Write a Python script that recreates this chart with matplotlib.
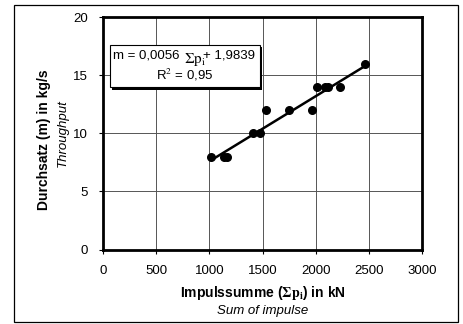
import matplotlib
matplotlib.use('Agg')
import matplotlib.pyplot as plt
import numpy as np
from matplotlib.patches import Rectangle

plt.rcParams['font.family'] = ['Liberation Sans', 'DejaVu Sans']
plt.rcParams['mathtext.fontset'] = 'stix'

# data
impulse = [1020, 1140, 1165, 1415, 1480, 1535, 1750, 1965, 2015, 2090, 2115, 2230, 2465]
throughput = [8, 8, 8, 10, 10, 12, 12, 12, 14, 14, 14, 14, 16]
slope = 0.0056
intercept = 1.9839
r2_text = "0,95"
xticks = [0, 500, 1000, 1500, 2000, 2500, 3000]
yticks = [0, 5, 10, 15, 20]

W, H = 464, 324
fig = plt.figure(figsize=(W / 100, H / 100), dpi=100)
ax = fig.add_axes([103 / W, 1 - 249.5 / H, 319 / W, 232.5 / H])

def fx(px):
    return px / W

def fy(py):
    return 1 - py / H

# outer frame
fig.patches.append(Rectangle((fx(14), fy(322)), fx(458) - fx(14), fy(5) - fy(322),
                             transform=fig.transFigure, fill=False, lw=0.9, ec='black'))

ax.grid(True, color='#555555', lw=0.7)
ax.set_axisbelow(True)
ax.scatter(impulse, throughput, s=30, color='black', zorder=3)
xl = np.array([min(impulse), max(impulse)])
ax.plot(xl, slope * xl + intercept, color='black', lw=1.8, zorder=3)

ax.set_xlim(0, 3000)
ax.set_ylim(0, 20)
ax.set_xticks(xticks)
ax.set_yticks(yticks)
ax.tick_params(direction='out', length=3, width=0.8, labelsize=9.5, pad=8)
for s in ax.spines.values():
    s.set_linewidth(2.0)

# equation box with shadow
bx0, bx1, by0, by1 = fx(110), fx(260), fy(87), fy(44.5)
fig.patches.append(Rectangle((bx0 + 2.5 / W, by0 - 2.5 / H), bx1 - bx0, by1 - by0,
                             transform=fig.transFigure, fc='black', ec='black', lw=0, zorder=5))
fig.patches.append(Rectangle((bx0, by0), bx1 - bx0, by1 - by0,
                             transform=fig.transFigure, fc='white', ec='black', lw=0.8, zorder=6))
fig.text(fx(113), fy(56), "m = 0,0056", fontsize=9.5, va='center', ha='left', zorder=7)
fig.text(fx(184), fy(60), r"$\Sigma\mathrm{p_i}$", fontsize=11, va='center', ha='left', zorder=7)
fig.text(fx(203), fy(55), "+ 1,9839", fontsize=9.5, va='center', ha='left', zorder=7)
fig.text(fx(185), fy(75), "R$^2$ = " + r2_text, fontsize=9.5, va='center', ha='center', zorder=7)

# axis titles
fig.text(fx(263), fy(293), r"Impulssumme ($\mathbf{\Sigma p_i}$) in kN", fontsize=10,
         fontweight='bold', ha='center', va='center')
fig.text(fx(263), fy(311), "Sum of impulse", fontsize=9.5, style='italic',
         ha='center', va='center')
fig.text(fx(44), fy(140), "Durchsatz (m) in kg/s", fontsize=10, fontweight='bold',
         rotation=90, ha='center', va='center')
fig.text(fx(63), fy(133), "Throughput", fontsize=9.5, style='italic',
         rotation=90, ha='center', va='center')

fig.savefig("out.png", dpi=100)
